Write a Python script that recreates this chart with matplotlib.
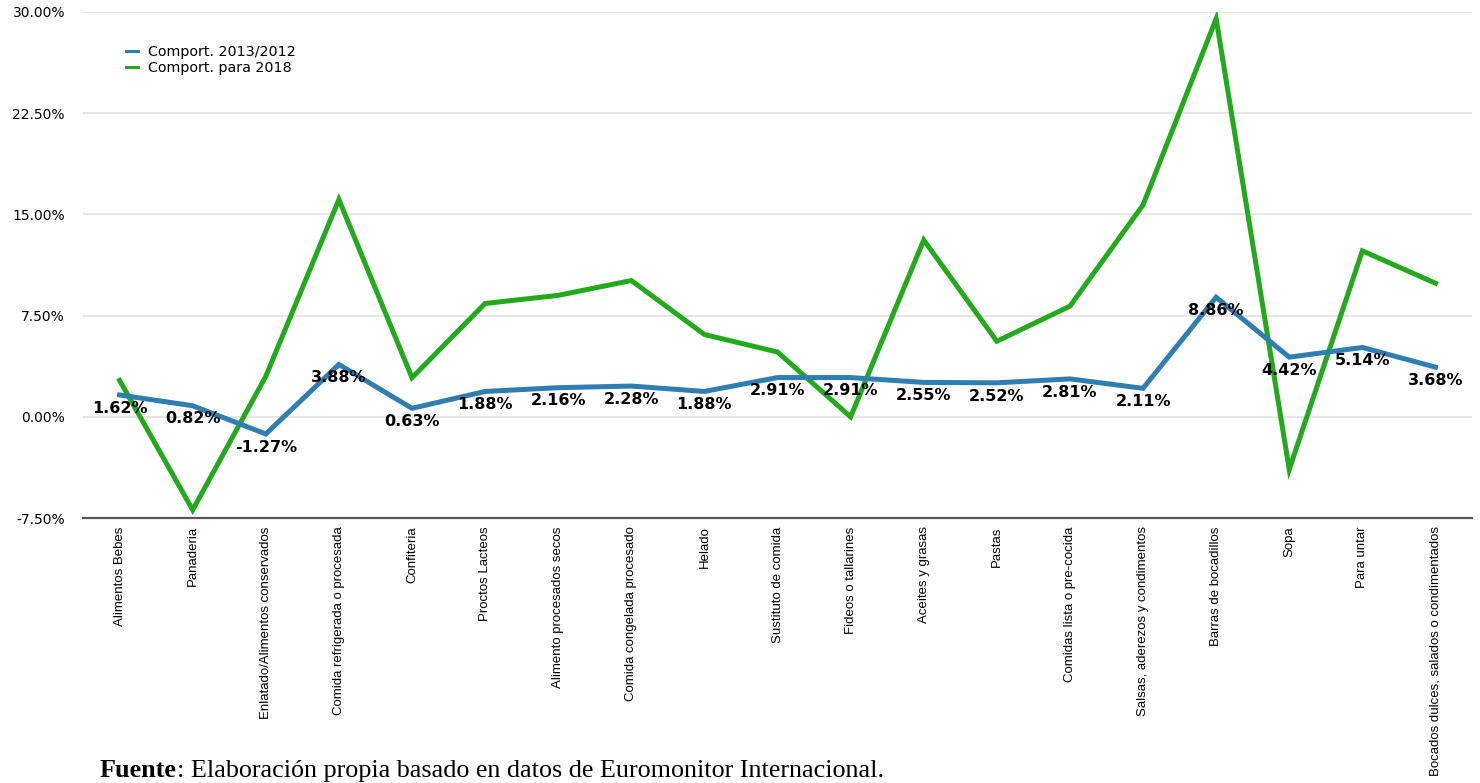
import numpy as np
import matplotlib.pyplot as plt
from matplotlib.ticker import FuncFormatter

categorias = [
    "Alimentos Bebes",
    "Panaderia",
    "Enlatado/Alimentos conservados",
    "Comida refrigerada o procesada",
    "Confiteria",
    "Proctos Lacteos",
    "Alimento procesados secos",
    "Comida congelada procesado",
    "Helado",
    "Sustituto de comida",
    "Fideos o tallarines",
    "Aceites y grasas",
    "Pastas",
    "Comidas lista o pre-cocida",
    "Salsas, aderezos y condimentos",
    "Barras de bocadillos",
    "Sopa",
    "Para untar",
    "Bocados dulces, salados o condimentados",
]

comport_2013_2012 = [1.62, 0.82, -1.27, 3.88, 0.63, 1.88, 2.16, 2.28, 1.88, 2.91,
                     2.91, 2.55, 2.52, 2.81, 2.11, 8.86, 4.42, 5.14, 3.68]

comport_2018 = [2.7, -6.9, 3.0, 16.1, 2.9, 8.4, 9.0, 10.1, 6.1, 4.8,
                0.0, 13.1, 5.6, 8.2, 15.7, 29.5, -3.9, 12.3, 9.9]

y_ticks = [-7.5, 0.0, 7.5, 15.0, 22.5, 30.0]

AZUL = "#2f7eb1"
VERDE = "#22aa1c"


def main():
    fig = plt.figure(figsize=(14.8, 7.83), dpi=100)
    ax = fig.add_axes([0.0561, 0.3384, 0.9385, 0.6463])

    x = np.arange(len(categorias))
    ax.plot(x, comport_2013_2012, color=AZUL, lw=3.6, solid_joinstyle="miter",
            label="Comport. 2013/2012", zorder=3)
    ax.plot(x, comport_2018, color=VERDE, lw=3.6, solid_joinstyle="miter",
            label="Comport. para 2018", zorder=2)

    # etiquetas de valor bajo la serie 2013/2012
    for xi, v in zip(x, comport_2013_2012):
        ax.annotate(f"{v:.2f}%", (xi, v), xytext=(0, -9.5), textcoords="offset points",
                    ha="center", va="center", fontsize=11.5, fontweight="bold",
                    family="DejaVu Sans", color="black", zorder=4)

    ax.set_xlim(-0.5, len(categorias) - 0.5)
    ax.set_ylim(-7.5, 30)
    ax.set_yticks(y_ticks)
    ax.yaxis.set_major_formatter(FuncFormatter(lambda v, p: f"{v:.2f}%"))
    ax.set_xticks(x)
    ax.set_xticklabels(categorias, rotation=90, family="Liberation Sans",
                       fontsize=9.5, va="top", ha="center")
    ax.tick_params(axis="x", length=0, pad=6)
    ax.tick_params(axis="y", length=0, pad=13, labelsize=10)
    for lab in ax.get_yticklabels():
        lab.set_family("DejaVu Sans")

    ax.grid(axis="y", color="#e6e6e6", lw=1.4)
    ax.set_axisbelow(True)
    for s in ("top", "right", "left"):
        ax.spines[s].set_visible(False)
    ax.spines["bottom"].set_color("#555555")
    ax.spines["bottom"].set_linewidth(1.6)
    ax.spines["bottom"].set_zorder(5)

    leg = ax.legend(loc="upper left", bbox_to_anchor=(0.022, 0.96), frameon=False,
                    handlelength=0.8, handletextpad=0.7, labelspacing=0.15,
                    prop={"family": "DejaVu Sans", "size": 10.3})
    for h in leg.get_lines():
        h.set_linewidth(2.2)

    # nota de fuente: "Fuente" en negrita y el resto a continuación
    t1 = fig.text(100 / 1480, 1 - 777 / 783, "Fuente", family="Liberation Serif",
                  fontweight="bold", fontsize=18.8, va="baseline", ha="left")
    fig.add_artist(plt.Annotation(
        ": Elaboración propia basado en datos de Euromonitor Internacional.",
        xy=(1, 0), xycoords=t1, va="bottom", ha="left",
        family="Liberation Serif", fontsize=18.8))

    fig.savefig("out.png", dpi=100)
    plt.close(fig)


if __name__ == "__main__":
    main()
